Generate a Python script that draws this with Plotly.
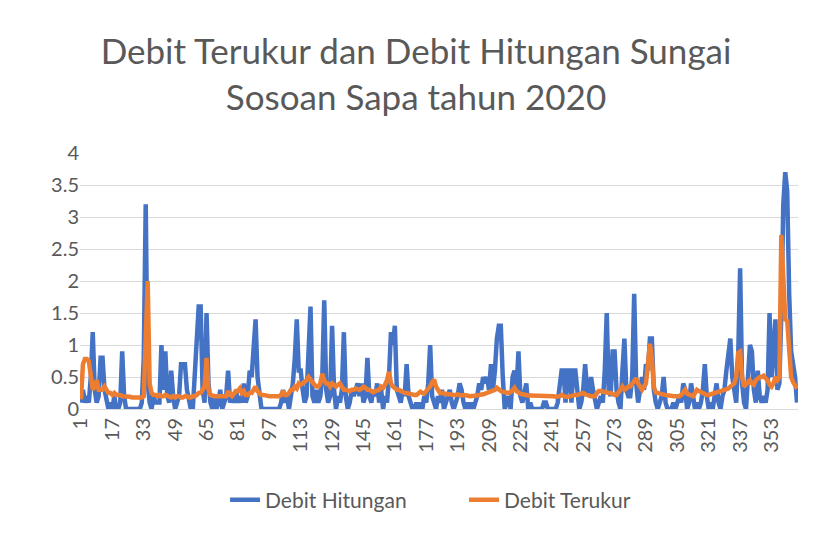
import plotly.graph_objects as go

days = list(range(1, 367))

# Debit Hitungan (calculated discharge), one value per day
debit_hitungan = [
    0.1, 0.3, 0.1, 0.2, 0.1, 0.5, 1.2, 0.3, 0.1, 0.2,
    0.8, 0.8, 0.3, 0.1, 0.0, 0.1, 0.0, 0.2, 0.0, 0.0,
    0.1, 0.9, 0.2, 0.0, 0.0, 0.0, 0.0, 0.0, 0.0, 0.0,
    0.0, 0.1, 0.8, 3.2, 0.4, 0.1, 0.0, 0.2, 0.1, 0.1,
    0.1, 1.0, 0.3, 0.9, 0.2, 0.1, 0.6, 0.2, 0.0, 0.1,
    0.2, 0.7, 0.7, 0.7, 0.3, 0.1, 0.0, 0.0, 0.5, 1.1,
    1.6, 1.6, 0.3, 0.1, 1.5, 0.4, 0.1, 0.0, 0.2, 0.0,
    0.1, 0.3, 0.0, 0.1, 0.2, 0.6, 0.1, 0.2, 0.1, 0.3,
    0.1, 0.2, 0.1, 0.4, 0.1, 0.2, 0.6, 0.5, 0.9, 1.4,
    0.5, 0.2, 0.0, 0.0, 0.0, 0.0, 0.0, 0.0, 0.0, 0.0,
    0.0, 0.0, 0.1, 0.3, 0.1, 0.2, 0.0, 0.2, 0.4, 0.8,
    1.4, 0.6, 0.6, 0.3, 0.1, 0.2, 0.8, 1.6, 0.2, 0.1,
    0.3, 0.1, 0.2, 0.5, 1.7, 0.3, 0.1, 0.2, 1.3, 0.3,
    0.0, 0.2, 0.1, 0.3, 1.2, 0.2, 0.0, 0.1, 0.3, 0.2,
    0.3, 0.4, 0.2, 0.4, 0.1, 0.2, 0.8, 0.2, 0.1, 0.3,
    0.2, 0.4, 0.1, 0.3, 0.0, 0.2, 0.1, 0.5, 1.2, 1.0,
    1.3, 0.3, 0.2, 0.1, 0.3, 0.2, 0.7, 0.2, 0.1, 0.0,
    0.0, 0.1, 0.0, 0.1, 0.0, 0.2, 0.1, 0.4, 1.0, 0.2,
    0.1, 0.0, 0.2, 0.1, 0.3, 0.0, 0.1, 0.2, 0.3, 0.1,
    0.0, 0.1, 0.2, 0.4, 0.3, 0.1, 0.0, 0.1, 0.0, 0.1,
    0.0, 0.1, 0.2, 0.4, 0.3, 0.5, 0.4, 0.5, 0.3, 0.7,
    0.3, 0.6, 1.1, 1.3, 1.3, 0.5, 0.0, 0.1, 0.2, 0.0,
    0.5, 0.6, 0.3, 0.9, 0.2, 0.1, 0.3, 0.4, 0.0, 0.1,
    0.0, 0.0, 0.0, 0.0, 0.0, 0.0, 0.1, 0.1, 0.0, 0.0,
    0.0, 0.0, 0.0, 0.1, 0.3, 0.6, 0.6, 0.1, 0.6, 0.6,
    0.1, 0.6, 0.6, 0.2, 0.0, 0.1, 0.3, 0.7, 0.3, 0.2,
    0.5, 0.3, 0.1, 0.0, 0.1, 0.2, 0.1, 0.6, 1.5, 0.3,
    0.2, 0.9, 0.9, 0.3, 0.1, 0.0, 0.6, 1.1, 0.3, 0.2,
    0.2, 0.5, 1.8, 0.4, 0.1, 0.3, 0.5, 0.3, 0.7, 0.6,
    1.1, 1.1, 0.3, 0.1, 0.0, 0.1, 0.2, 0.5, 0.1, 0.0,
    0.0, 0.0, 0.1, 0.0, 0.1, 0.2, 0.1, 0.4, 0.3, 0.0,
    0.1, 0.4, 0.2, 0.0, 0.1, 0.0, 0.1, 0.3, 0.7, 0.2,
    0.0, 0.1, 0.0, 0.2, 0.4, 0.1, 0.0, 0.2, 0.3, 0.6,
    0.9, 1.1, 0.5, 0.3, 0.1, 0.8, 2.2, 0.4, 0.1, 0.0,
    0.5, 1.0, 0.9, 0.3, 0.1, 0.6, 0.2, 0.1, 0.2, 0.1,
    0.3, 1.5, 0.5, 1.0, 1.4, 0.3, 0.4, 1.5, 3.2, 3.7,
    3.4, 1.8, 0.9, 0.7, 0.5, 0.1,
]

# Debit Terukur (measured discharge), one value per day
debit_terukur = [
    0.15, 0.7, 0.78, 0.78, 0.75, 0.45, 0.3, 0.35, 0.45, 0.3,
    0.3, 0.3, 0.35, 0.3, 0.25, 0.25, 0.22, 0.25, 0.22, 0.22,
    0.22, 0.2, 0.2, 0.2, 0.19, 0.19, 0.18, 0.18, 0.18, 0.18,
    0.18, 0.18, 0.2, 0.9, 2.0, 0.4, 0.25, 0.22, 0.22, 0.2,
    0.22, 0.2, 0.2, 0.22, 0.2, 0.2, 0.18, 0.2, 0.18, 0.2,
    0.2, 0.18, 0.18, 0.2, 0.2, 0.18, 0.18, 0.2, 0.2, 0.22,
    0.25, 0.25, 0.3, 0.35, 0.8, 0.3, 0.22, 0.2, 0.2, 0.2,
    0.2, 0.2, 0.2, 0.2, 0.2, 0.28, 0.22, 0.2, 0.25, 0.28,
    0.28, 0.32, 0.25, 0.28, 0.22, 0.22, 0.25, 0.25, 0.3, 0.35,
    0.28, 0.25, 0.22, 0.22, 0.21, 0.2, 0.2, 0.2, 0.2, 0.2,
    0.2, 0.2, 0.22, 0.28, 0.22, 0.22, 0.25, 0.3, 0.3, 0.35,
    0.32, 0.4, 0.38, 0.4, 0.42, 0.45, 0.5, 0.45, 0.4, 0.38,
    0.35, 0.35, 0.4, 0.55, 0.45, 0.4, 0.4, 0.35, 0.4, 0.38,
    0.35, 0.38, 0.4, 0.35, 0.3, 0.3, 0.28, 0.28, 0.3, 0.3,
    0.32, 0.3, 0.3, 0.32, 0.35, 0.33, 0.3, 0.3, 0.28, 0.26,
    0.28, 0.3, 0.3, 0.35, 0.33, 0.38, 0.45, 0.58, 0.4, 0.35,
    0.32, 0.3, 0.3, 0.28, 0.27, 0.25, 0.25, 0.24, 0.23, 0.22,
    0.22, 0.22, 0.24, 0.27, 0.25, 0.24, 0.28, 0.32, 0.35, 0.42,
    0.46, 0.35, 0.28, 0.25, 0.25, 0.24, 0.24, 0.23, 0.23, 0.22,
    0.22, 0.22, 0.23, 0.22, 0.22, 0.21, 0.21, 0.21, 0.2, 0.2,
    0.2, 0.2, 0.21, 0.22, 0.22, 0.23, 0.24, 0.25, 0.26, 0.27,
    0.28, 0.3, 0.33, 0.3, 0.28, 0.27, 0.26, 0.26, 0.25, 0.26,
    0.3, 0.33, 0.28, 0.25, 0.24, 0.23, 0.22, 0.22, 0.21, 0.21,
    0.21, 0.2, 0.2, 0.2, 0.2, 0.2, 0.2, 0.2, 0.2, 0.2,
    0.2, 0.2, 0.19, 0.19, 0.2, 0.22, 0.2, 0.19, 0.19, 0.2,
    0.2, 0.21, 0.22, 0.22, 0.23, 0.24, 0.25, 0.23, 0.22, 0.2,
    0.2, 0.2, 0.2, 0.25, 0.28, 0.28, 0.27, 0.27, 0.26, 0.25,
    0.25, 0.23, 0.22, 0.22, 0.25, 0.3, 0.35, 0.3, 0.32, 0.35,
    0.35, 0.4, 0.45, 0.48, 0.4, 0.33, 0.3, 0.35, 0.4, 0.7,
    1.02, 0.8, 0.35, 0.26, 0.25, 0.25, 0.24, 0.23, 0.22, 0.21,
    0.21, 0.2, 0.2, 0.2, 0.2, 0.2, 0.22, 0.26, 0.3, 0.24,
    0.22, 0.21, 0.2, 0.25, 0.3, 0.28, 0.26, 0.25, 0.24, 0.22,
    0.22, 0.23, 0.24, 0.25, 0.25, 0.26, 0.28, 0.28, 0.3, 0.3,
    0.32, 0.35, 0.38, 0.4, 0.5, 0.88, 0.9, 0.5, 0.35, 0.38,
    0.42, 0.45, 0.4, 0.38, 0.45, 0.48, 0.5, 0.5, 0.52, 0.48,
    0.45, 0.38, 0.35, 0.4, 0.5, 0.45, 0.5, 2.72, 1.8, 1.4,
    1.38, 0.8, 0.5, 0.42, 0.36, 0.32,
]

tick_days = list(range(1, 367, 16))

font_name = "Lato"
text_grey = "#595959"

fig = go.Figure()
fig.add_trace(go.Scatter(
    x=days, y=debit_hitungan, mode="lines", name="Debit Hitungan",
    line=dict(color="#4472C4", width=4.5),
))
fig.add_trace(go.Scatter(
    x=days, y=debit_terukur, mode="lines", name="Debit Terukur",
    line=dict(color="#ED7D31", width=4.5),
))

# page body has an 8px margin, so margins are set 8px short on top/left
fig.update_layout(
    width=816, height=535,
    margin=dict(l=72, r=26, t=145, b=134, autoexpand=False),
    paper_bgcolor="white", plot_bgcolor="white",
    font=dict(family=font_name, color=text_grey, size=21),
    title=dict(
        text="Debit Terukur dan Debit Hitungan Sungai<br>Sosoan Sapa tahun 2020",
        x=0.5, xanchor="center", xref="container",
        y=1 - 56 / 535, yanchor="middle",
        font=dict(family=font_name, size=35, color=text_grey),
    ),
    xaxis=dict(
        range=[0.5, 366.5], tickmode="array", tickvals=tick_days,
        ticktext=[str(d) for d in tick_days], tickangle=-90,
        showgrid=False, showline=True, linecolor="#d9d9d9", linewidth=1,
        ticks="", zeroline=False, tickfont=dict(size=20), automargin=False,
    ),
    yaxis=dict(
        range=[0, 4], dtick=0.5, showgrid=True, gridcolor="#d9d9d9",
        gridwidth=1, zeroline=False, ticks="", automargin=False,
        tickfont=dict(size=20),
    ),
    legend=dict(
        orientation="h", x=0.202, xanchor="left",
        yref="container", y=1 - 492 / 535, yanchor="middle",
        font=dict(size=21), entrywidth=194,
    ),
    showlegend=True,
)

fig.add_shape(type="line", xref="paper", yref="paper",
              x0=(804 - 72) / 718, x1=(804 - 72) / 718, y0=-134 / 256, y1=1 + 145 / 256,
              line=dict(color="#d9d9d9", width=1))

fig.write_html("out.html")
